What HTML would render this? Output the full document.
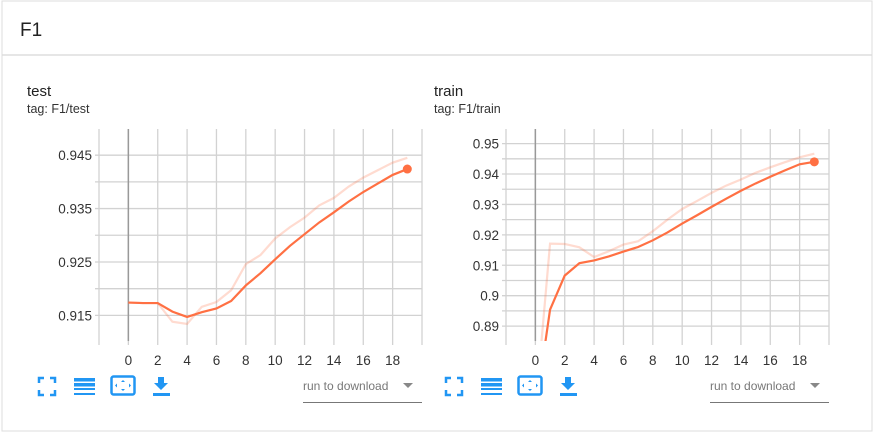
<!DOCTYPE html>
<html><head><meta charset="utf-8"><style>
html,body{margin:0;padding:0;background:#fff;}
body{width:875px;height:435px;overflow:hidden;font-family:"Liberation Sans",sans-serif;}
svg text{font-family:"Liberation Sans",sans-serif;}
</style></head><body>
<svg id="root" width="875" height="435">
<rect x="2" y="1" width="870" height="430" fill="#fff" stroke="#ddd"/>
<line x1="2" y1="55" x2="872" y2="55" stroke="#ddd" stroke-width="1.5"/>
<text x="20" y="36" font-size="19" fill="#222">F1</text>
<g id="c0"></g><g id="c1"></g>
</svg>
<script>
const xTicks=[0,2,4,6,8,10,12,14,16,18];
const testSteps=[0,1,2,3,4,5,6,7,8,9,10,11,12,13,14,15,16,17,18,19];
const testRaw=[.9174,.9173,.9173,.9138,.9134,.9166,.9175,.9197,.9246,.9263,.9294,.9315,.9333,.9356,.9370,.9391,.9408,.9422,.9436,.9445];
const testSmooth=[.9174,.9173,.9173,.9157,.9147,.9156,.9163,.9177,.9206,.9229,.9255,.9280,.9302,.9324,.9343,.9363,.9381,.9397,.9413,.9424];
const testYTicks=[0.915,0.925,0.935,0.945];
const testYLabels=["0.915","0.925","0.935","0.945"];
const trainSteps=[0,1,2,3,4,5,6,7,8,9,10,11,12,13,14,15,16,17,18,19];
const trainRaw=[.862,.9171,.9170,.9159,.9127,.9146,.9168,.9179,.9212,.9250,.9285,.9311,.9338,.9362,.9382,.9404,.9422,.9439,.9455,.9467];
const trainSmooth=[.862,.8954,.9066,.9107,.9116,.9129,.9145,.9160,.9182,.9208,.9237,.9264,.9292,.9319,.9345,.9369,.9391,.9412,.9432,.9440];
const trainYTicks=[0.89,0.9,0.91,0.92,0.93,0.94,0.95];
const trainYLabels=["0.89","0.9","0.91","0.92","0.93","0.94","0.95"];
const NS="http://www.w3.org/2000/svg";
function mk(p,t,a){const e=document.createElementNS(NS,t);for(const k in a)e.setAttribute(k,a[k]);p.appendChild(e);return e;}
function chart(gid,ox,title,tag,steps,raw,sm,yt,yl,ymin,ymax,gridStep){
 const g=document.getElementById(gid);
 const L=ox+99,R=ox+422,T=129,B=341;
 const xs=v=>L+(v+2)/22*(R-L);
 const ys=v=>B-(v-ymin)/(ymax-ymin)*(B-T);
 let t=mk(g,'text',{x:ox+27,y:96,'font-size':15,fill:'#222'});t.textContent=title;
 
 
 t=mk(g,'text',{x:ox+27,y:113,'font-size':12.5,fill:'#333'});t.textContent=tag;
 
 
 const grid=mk(g,'g',{});
 
 
 for(let v=Math.ceil(ymin/gridStep)*gridStep;v<=ymax;v+=gridStep){const y=ys(v);mk(grid,'line',{x1:L-4,x2:R,y1:y,y2:y,stroke:'#d2d2d2','stroke-width':1.3});}
 for(let v=-2;v<=20;v+=2){const x=xs(v);mk(grid,'line',{x1:x,x2:x,y1:T,y2:B+4,stroke:'#d2d2d2','stroke-width':1.3});}
 const z=mk(g,'line',{x1:xs(0),x2:xs(0),y1:T,y2:B,stroke:'#999','stroke-width':1.5});
 
 
 yt.forEach((v,i)=>{const e=mk(g,'text',{x:L-7,y:ys(v)+5,'font-size':13.5,fill:'#333','text-anchor':'end'});e.textContent=yl[i];
  
  });
 xTicks.forEach(v=>{const e=mk(g,'text',{x:xs(v),y:365,'font-size':13.5,fill:'#333','text-anchor':'middle'});e.textContent=v;
  
  });
 const cp=mk(g,'clipPath',{id:gid+'clip'});mk(cp,'rect',{x:L,y:T,width:R-L,height:B-T});
 const pr=mk(g,'polyline',{points:steps.map((s,i)=>xs(s)+','+ys(raw[i])).join(' '),fill:'none',stroke:'#ff7043','stroke-opacity':0.25,'stroke-width':2.2,'clip-path':'url(#'+gid+'clip)'});
 
 
 const ps=mk(g,'polyline',{points:steps.map((s,i)=>xs(s)+','+ys(sm[i])).join(' '),fill:'none',stroke:'#ff7043','stroke-width':2.2,'clip-path':'url(#'+gid+'clip)'});
 
 
 const n=steps.length-1;
 const d=mk(g,'circle',{cx:xs(steps[n]),cy:ys(sm[n]),r:4.5,fill:'#ff7043'});
 
 
 const c='#2196f3';
 const i1=mk(g,'path',{d:`M${ox+39} 383v-5h5M${ox+50} 378h5v5M${ox+55} 390v5h-5M${ox+44} 395h-5v-5`,fill:'none',stroke:c,'stroke-width':2.5});
 
 
 const i2=mk(g,'g',{fill:c});
 
 
 [378,383,388,393].forEach(y=>mk(i2,'rect',{x:ox+74,y:y,width:21,height:y<388?3.5:2}));
 const i3=mk(g,'g',{});
 
 
 mk(i3,'rect',{x:ox+111.5,y:376.5,width:23,height:18,rx:2,fill:'none',stroke:c,'stroke-width':2.5});
 mk(i3,'path',{d:`M${ox+123} 380l2 2h-4zM${ox+123} 391l2-2h-4zM${ox+115} 385.5l2-2v4zM${ox+131} 385.5l-2-2v4z`,fill:c});
 const i4=mk(g,'path',{d:`M${ox+158} 377h6v6h4l-7 7l-7-7h4zM${ox+153} 393h17v3h-17z`,fill:c});
 
 
 const dd=mk(g,'g',{});
 
 
 const tt=mk(dd,'text',{x:ox+303,y:390,'font-size':12,fill:'#777'});tt.textContent='run to download';
 mk(dd,'path',{d:`M${ox+403} 383h10l-5 5z`,fill:'#888'});
 mk(dd,'line',{x1:ox+303,x2:ox+422,y1:402.5,y2:402.5,stroke:'#777','stroke-width':1});
}
chart('c0',0,'test','tag: F1/test',testSteps,testRaw,testSmooth,testYTicks,testYLabels,0.9102,0.9499,0.005);
chart('c1',407,'train','tag: F1/train',trainSteps,trainRaw,trainSmooth,trainYTicks,trainYLabels,0.8851,0.9548,0.005);
</script>
</body></html>
